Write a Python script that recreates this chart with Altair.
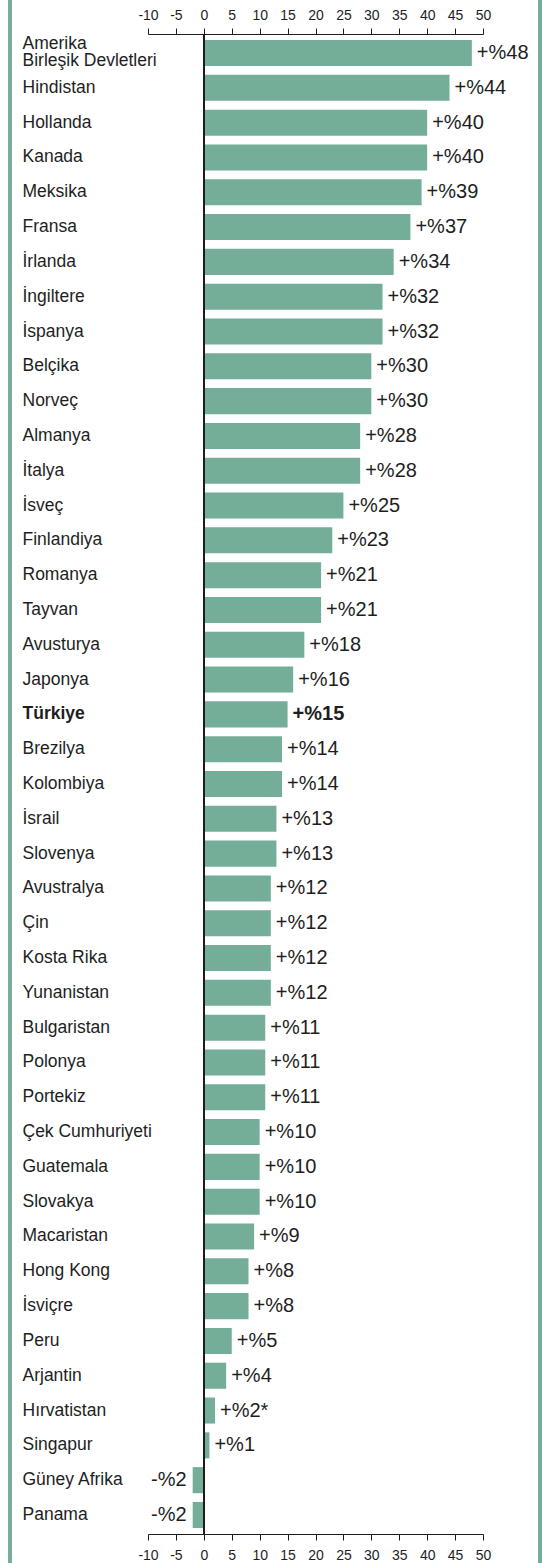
import altair as alt
import pandas as pd

countries = [
    "Amerika Birleşik Devletleri", "Hindistan", "Hollanda", "Kanada", "Meksika",
    "Fransa", "İrlanda", "İngiltere", "İspanya", "Belçika", "Norveç", "Almanya",
    "İtalya", "İsveç", "Finlandiya", "Romanya", "Tayvan", "Avusturya", "Japonya",
    "Türkiye", "Brezilya", "Kolombiya", "İsrail", "Slovenya", "Avustralya", "Çin",
    "Kosta Rika", "Yunanistan", "Bulgaristan", "Polonya", "Portekiz",
    "Çek Cumhuriyeti", "Guatemala", "Slovakya", "Macaristan", "Hong Kong",
    "İsviçre", "Peru", "Arjantin", "Hırvatistan", "Singapur", "Güney Afrika", "Panama",
]
values = [48, 44, 40, 40, 39, 37, 34, 32, 32, 30, 30, 28, 28, 25, 23, 21, 21, 18, 16,
          15, 14, 14, 13, 13, 12, 12, 12, 12, 11, 11, 11, 10, 10, 10, 9, 8, 8, 5, 4,
          2, 1, -2, -2]
footnote_marks = {"Hırvatistan": "*"}
tick_values = [-10, -5, 0, 5, 10, 15, 20, 25, 30, 35, 40, 45, 50]

labels = [("+%" if v > 0 else "-%") + str(abs(v)) + footnote_marks.get(c, "")
          for c, v in zip(countries, values)]
df = pd.DataFrame({"country": countries, "value": values, "label": labels})

GREEN = "#74ae98"
INK = "#1e1e1e"
FONT = "Liberation Sans"

xscale = alt.Scale(domain=[-10, 50], nice=False, zero=False)
yaxis = alt.Axis(
    title=None, orient="left", domain=False, ticks=False,
    labelAlign="left", labelPadding=126, labelFontSize=17.5, labelColor=INK,
    labelLimit=300, labelLineHeight=17,
    labelExpr="datum.value == 'Amerika Birleşik Devletleri' ? ['Amerika', 'Birleşik Devletleri'] : datum.label",
    labelOffset={"condition": {"test": "datum.value == 'Amerika Birleşik Devletleri'", "value": -9}, "value": 0},
    labelFontWeight={"condition": {"test": "datum.value == 'Türkiye'", "value": "bold"}, "value": "normal"},
)
yenc = alt.Y("country:N", sort=countries,
             scale=alt.Scale(paddingInner=0.252, paddingOuter=0.173), axis=yaxis)


def xaxis(orient, pad):
    return alt.Axis(orient=orient, values=tick_values, title=None, grid=False,
                    tickSize=6, tickColor=INK, domainColor=INK, labelColor=INK,
                    labelFontSize=14, labelPadding=pad, labelFlush=False,
                    labelExpr="'' + datum.value")


base = alt.Chart(df)

bars = base.mark_bar(color=GREEN).encode(
    x=alt.X("value:Q", scale=xscale, axis=xaxis("top", 6)),
    x2=alt.datum(0),
    y=yenc,
)
bottom_axis = base.mark_bar(opacity=0).encode(
    x=alt.X("value:Q", scale=xscale, axis=xaxis("bottom", 8)),
    x2=alt.datum(0),
    y=yenc,
)
zero_line = base.mark_rule(color=INK, strokeWidth=1).encode(
    x=alt.X(datum=0, axis=None)
)

pos_text = base.transform_filter("datum.value > 0 && datum.country != 'Türkiye'").mark_text(
    align="left", baseline="middle", dx=5, fontSize=20, color=INK
).encode(x=alt.X("value:Q", axis=None), y=yenc, text="label:N")
bold_text = base.transform_filter("datum.country == 'Türkiye'").mark_text(
    align="left", baseline="middle", dx=5, fontSize=20, color=INK, fontWeight="bold"
).encode(x=alt.X("value:Q", axis=None), y=yenc, text="label:N")
neg_text = base.transform_filter("datum.value < 0").mark_text(
    align="right", baseline="middle", dx=-6, fontSize=20, color=INK
).encode(x=alt.X("value:Q", axis=None), y=yenc, text="label:N")

frame_df = pd.DataFrame({"side": ["left", "right"]})
left_border = alt.Chart(frame_df).transform_filter("datum.side == 'left'").mark_rule(
    color=GREEN, strokeWidth=4
).encode(x=alt.value(-138), y=alt.value(-34), y2=alt.value(1529))
right_border = alt.Chart(frame_df).transform_filter("datum.side == 'right'").mark_rule(
    color=GREEN, strokeWidth=4
).encode(x=alt.value(392), y=alt.value(-34), y2=alt.value(1529))

chart = alt.layer(
    bars, bottom_axis, zero_line, pos_text, bold_text, neg_text, left_border, right_border
).resolve_axis(x="independent").properties(
    width=335, height=1500,
    autosize=alt.AutoSizeParams(type="none"),
    padding={"left": 148, "top": 34, "right": 69, "bottom": 29},
    background="white",
).configure_view(strokeWidth=0).configure_axis(
    labelFont=FONT
).configure_text(font=FONT)

chart.save("out.html", embed_options={"renderer": "svg", "actions": False})
